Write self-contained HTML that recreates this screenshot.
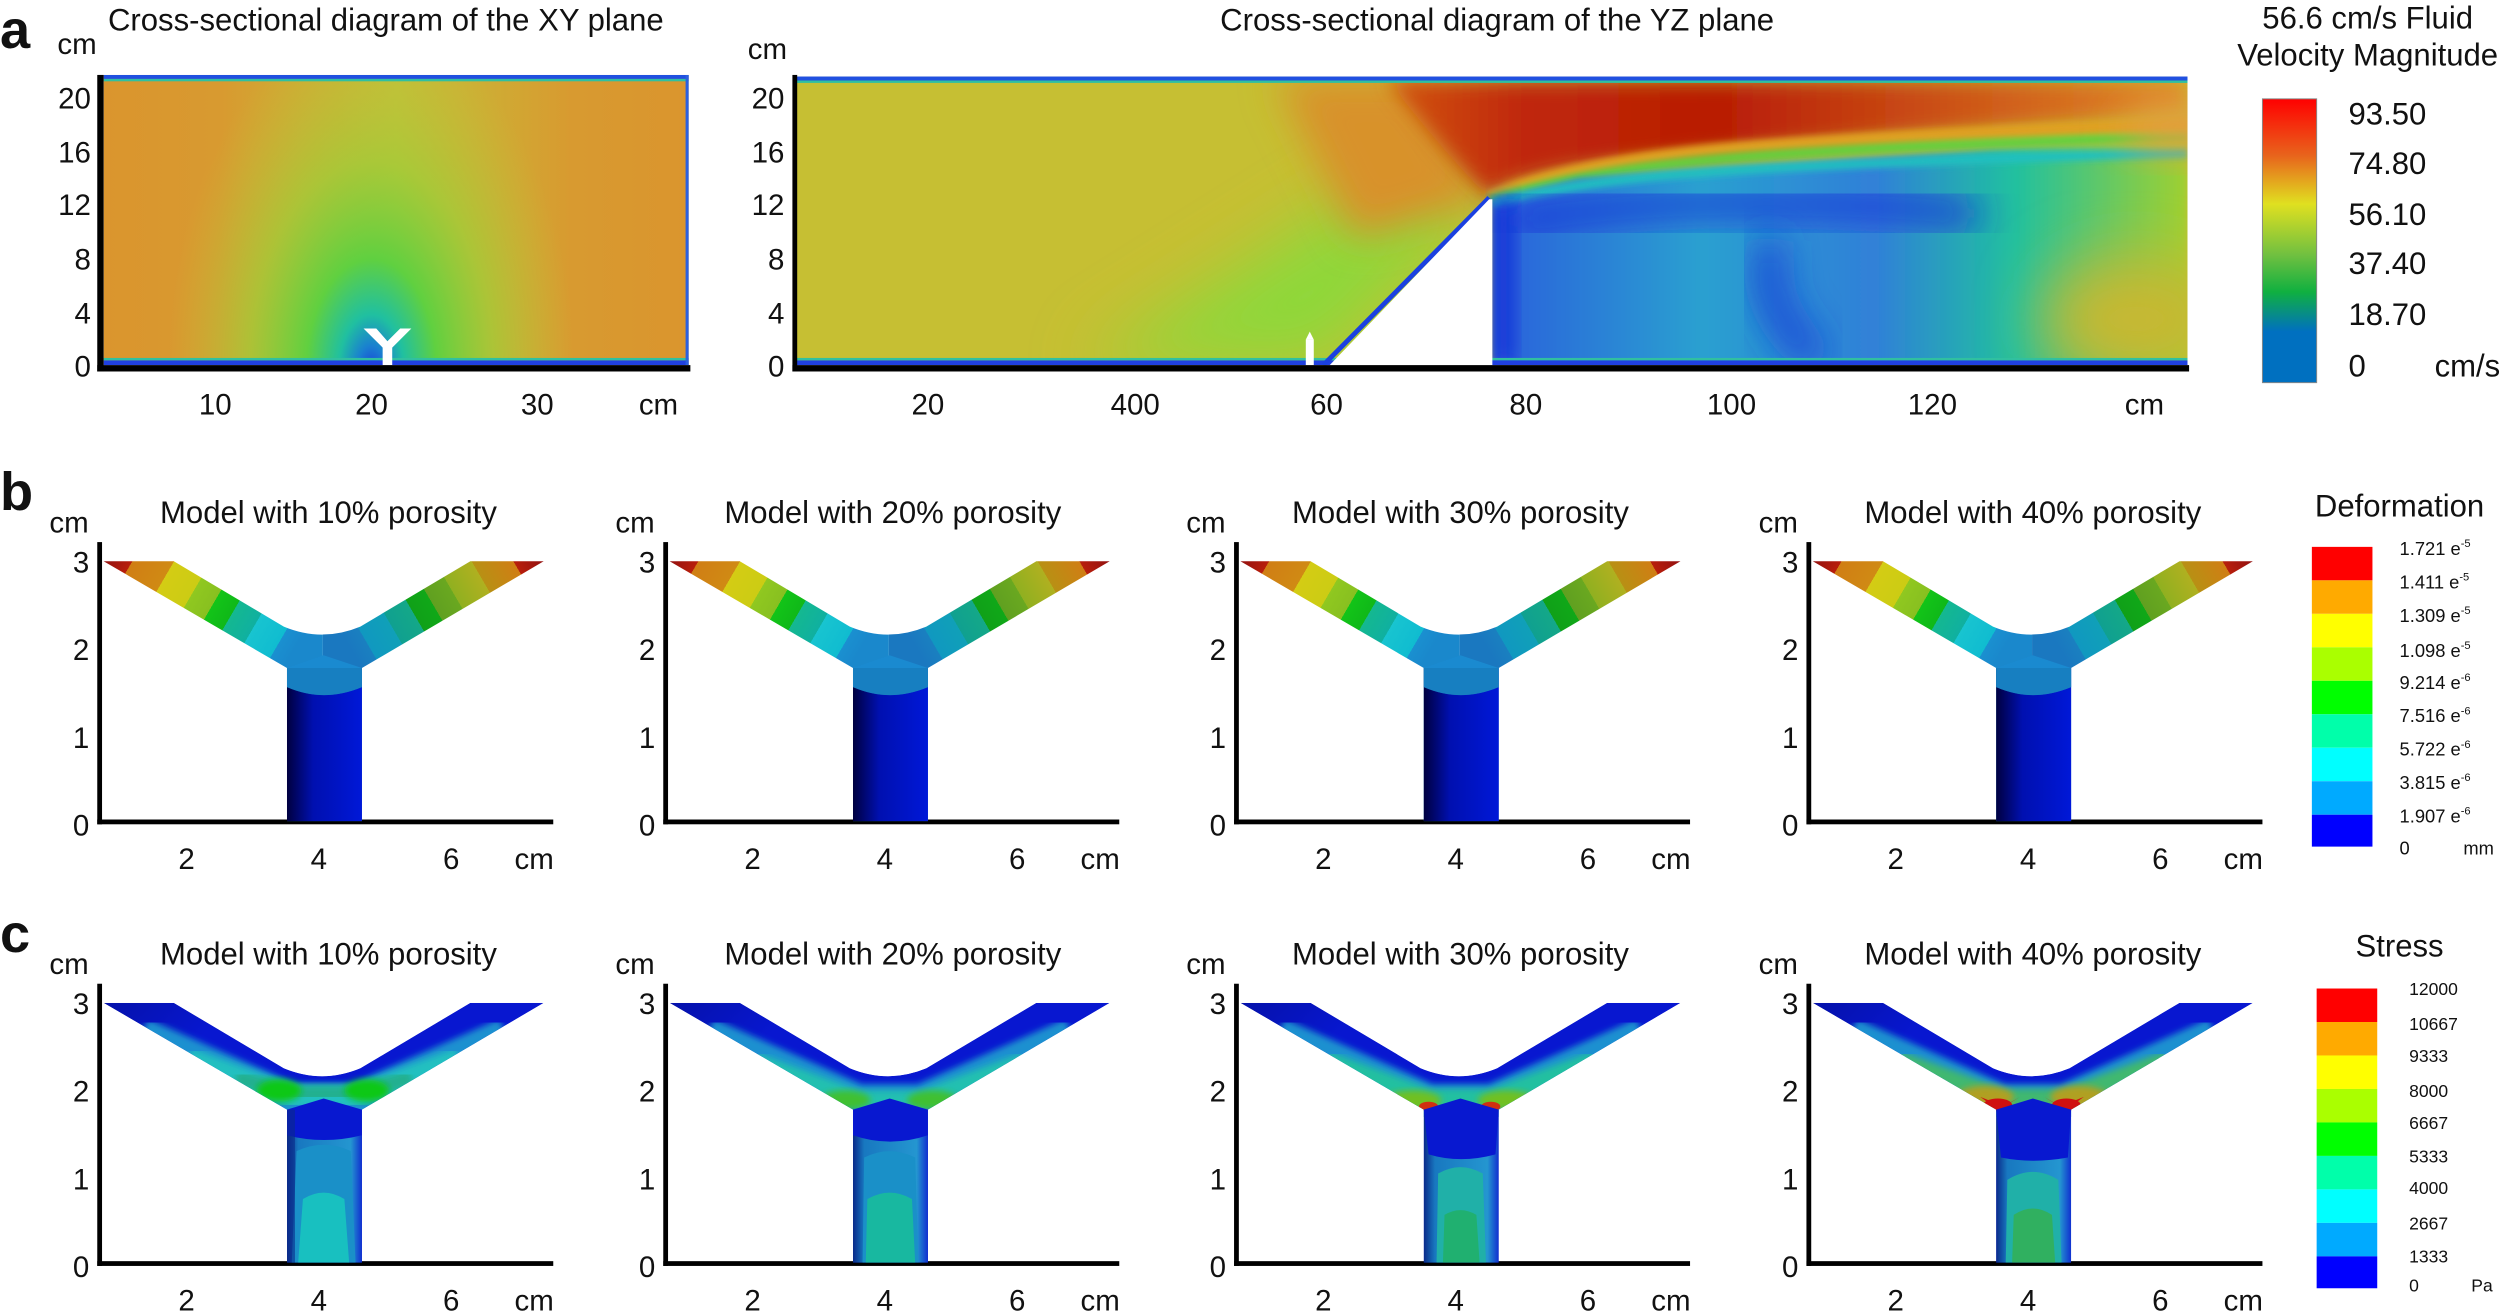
<!DOCTYPE html>
<html><head><meta charset="utf-8"><style>html,body{margin:0;padding:0;background:#fff}svg{display:block}text{font-family:"Liberation Sans",Arial,sans-serif;fill:#111}</style></head><body>
<svg width="2500" height="1316" viewBox="0 0 1568 825.4" preserveAspectRatio="none" xmlns="http://www.w3.org/2000/svg">
<defs>
<filter id="b2" x="-20%" y="-20%" width="140%" height="140%"><feGaussianBlur stdDeviation="2"/></filter>
<filter id="b6" x="-30%" y="-30%" width="160%" height="160%"><feGaussianBlur stdDeviation="6"/></filter>
<filter id="b12" x="-50%" y="-50%" width="200%" height="200%"><feGaussianBlur stdDeviation="12"/></filter>
<filter id="b20" x="-50%" y="-50%" width="200%" height="200%"><feGaussianBlur stdDeviation="20"/></filter>
<clipPath id="cxy"><rect x="65" y="47" width="367" height="182"/></clipPath>
<clipPath id="cyz"><rect x="499" y="48" width="873" height="181"/></clipPath>
<linearGradient id="xyh" x1="0" x2="1" y1="0" y2="0"><stop offset="0" stop-color="#da952e"/><stop offset="0.2" stop-color="#d89a30"/><stop offset="0.5" stop-color="#c4c038"/><stop offset="0.8" stop-color="#d89a30"/><stop offset="1" stop-color="#da952e"/></linearGradient>
<radialGradient id="xyr" cx="233" cy="232" r="150" gradientUnits="userSpaceOnUse" gradientTransform="translate(233 232) scale(0.85 1.45) translate(-233 -232)"><stop offset="0" stop-color="#1a40d8"/><stop offset="0.07" stop-color="#1a80d0"/><stop offset="0.16" stop-color="#20c0a0"/><stop offset="0.32" stop-color="#60d040"/><stop offset="0.6" stop-color="#a0cc38" stop-opacity="0.75"/><stop offset="1" stop-color="#c4c038" stop-opacity="0"/></radialGradient>
<linearGradient id="yzlow" x1="936" x2="1372" y1="0" y2="0" gradientUnits="userSpaceOnUse"><stop offset="0" stop-color="#2a60dc"/><stop offset="0.3" stop-color="#2aa0d0"/><stop offset="0.55" stop-color="#3080d8"/><stop offset="0.75" stop-color="#20c0a0"/><stop offset="1" stop-color="#a0d030"/></linearGradient>
<linearGradient id="yzred" x1="880" x2="1372" y1="0" y2="0" gradientUnits="userSpaceOnUse"><stop offset="0" stop-color="#d05010"/><stop offset="0.15" stop-color="#c02808"/><stop offset="0.4" stop-color="#b81c05"/><stop offset="1" stop-color="#e08a28"/></linearGradient>
<linearGradient id="vbar" x1="0" x2="0" y1="0" y2="1"><stop offset="0" stop-color="#ff0000"/><stop offset="0.2" stop-color="#e8641c"/><stop offset="0.37" stop-color="#e0e020"/><stop offset="0.55" stop-color="#70c040"/><stop offset="0.68" stop-color="#10b040"/><stop offset="0.82" stop-color="#0070c0"/><stop offset="1" stop-color="#0070c0"/></linearGradient>
<linearGradient id="defL" x1="0" y1="-163" x2="115" y2="-96" gradientUnits="userSpaceOnUse">
<stop offset="0" stop-color="#901010"/><stop offset="0.13" stop-color="#b81e0c"/><stop offset="0.13" stop-color="#d07e14"/><stop offset="0.3" stop-color="#d08a14"/><stop offset="0.3" stop-color="#d4cc14"/><stop offset="0.45" stop-color="#cccc14"/><stop offset="0.45" stop-color="#90c820"/><stop offset="0.56" stop-color="#88c020"/><stop offset="0.56" stop-color="#12c418"/><stop offset="0.66" stop-color="#10b818"/><stop offset="0.66" stop-color="#14b890"/><stop offset="0.78" stop-color="#10b0a0"/><stop offset="0.78" stop-color="#18c4d0"/><stop offset="0.92" stop-color="#10bcd0"/><stop offset="0.92" stop-color="#1a90d0"/><stop offset="1" stop-color="#1a88cc"/></linearGradient>
<linearGradient id="defR" x1="279" y1="-163" x2="164" y2="-96" gradientUnits="userSpaceOnUse">
<stop offset="0" stop-color="#901010"/><stop offset="0.13" stop-color="#b81e0c"/><stop offset="0.13" stop-color="#d07e14"/><stop offset="0.3" stop-color="#b89014"/><stop offset="0.3" stop-color="#b0b020"/><stop offset="0.45" stop-color="#90b020"/><stop offset="0.45" stop-color="#6aa820"/><stop offset="0.56" stop-color="#60a020"/><stop offset="0.56" stop-color="#10a818"/><stop offset="0.66" stop-color="#10a018"/><stop offset="0.66" stop-color="#14a888"/><stop offset="0.78" stop-color="#10a090"/><stop offset="0.78" stop-color="#10a0b8"/><stop offset="0.92" stop-color="#1098c0"/><stop offset="0.92" stop-color="#1a80c0"/><stop offset="1" stop-color="#1a78c0"/></linearGradient>
<linearGradient id="stemB" x1="117" x2="164" y1="0" y2="0" gradientUnits="userSpaceOnUse"><stop offset="0" stop-color="#000040"/><stop offset="0.35" stop-color="#0010b0"/><stop offset="1" stop-color="#0018d8"/></linearGradient>
<linearGradient id="stemC" x1="117" x2="164" y1="0" y2="0" gradientUnits="userSpaceOnUse"><stop offset="0" stop-color="#0a2a8a"/><stop offset="0.15" stop-color="#1878c0"/><stop offset="0.85" stop-color="#2496d0"/><stop offset="1" stop-color="#1030d0"/></linearGradient>
<linearGradient id="armC" x1="0" y1="-163" x2="40" y2="-120" gradientUnits="userSpaceOnUse"><stop offset="0" stop-color="#000870"/><stop offset="1" stop-color="#0818d0"/></linearGradient>
<path id="ys" d="M2,-163 L46,-163 L115,-122 Q139,-112 163,-122 L232,-163 L278,-163 L164,-96 L164,0 L117,0 L117,-96 Z"/>
<clipPath id="cys"><use href="#ys"/></clipPath>
<clipPath id="cl"><rect x="-10" y="-200" width="149.5" height="210"/></clipPath>
<clipPath id="cr"><rect x="139.5" y="-200" width="160" height="210"/></clipPath>
<g id="defY">
<use href="#ys" fill="url(#defL)" clip-path="url(#cl)"/>
<use href="#ys" fill="url(#defR)" clip-path="url(#cr)"/>
<rect x="117" y="-96" width="47" height="96" fill="url(#stemB)"/>
<path d="M117,-96 L140,-104 L164,-96 L164,-84 Q140,-74 117,-84 Z" fill="#1a8ad0"/>
<path d="M117,-96 L164,-96 L164,-84 Q140,-74 117,-84 Z" fill="#1578b8" opacity="0.6"/>
</g>
<g id="armLight">
<path d="M25,-142 L120,-100 L160,-100 L255,-142" stroke="#1a90d0" stroke-width="24" fill="none" filter="url(#b2)"/>
</g>
</defs>

<!-- Panel a -->
<text x="0" y="30" font-size="34" font-weight="bold">a</text>
<text x="242" y="19" font-size="19.5" text-anchor="middle">Cross-sectional diagram of the XY plane</text>
<text x="36" y="34" font-size="18.5">cm</text>
<g clip-path="url(#cxy)">
<rect x="65" y="47" width="367" height="182" fill="url(#xyh)"/>
<rect x="65" y="47" width="367" height="182" fill="url(#xyr)"/>
<rect x="65" y="47" width="367" height="2.5" fill="#2050e0"/>
<rect x="65" y="49.5" width="367" height="1.5" fill="#30c0a0"/>
<rect x="65" y="226" width="367" height="3" fill="#2040e0"/>
<rect x="65" y="224.5" width="367" height="1.5" fill="#30c0a0"/>
<rect x="430" y="47" width="2" height="182" fill="#2a60e0"/>
</g>
<path d="M228,206 L236,206 L243,214 L251,206 L258,206 L246,218 L246,229 L240,229 L240,218 Z" fill="#fff"/>
<rect x="61" y="47" width="4" height="186" fill="#000"/>
<rect x="61" y="229" width="372" height="4" fill="#000"/>
<g font-size="18.5" text-anchor="end">
<text x="57" y="68">20</text><text x="57" y="102">16</text><text x="57" y="135">12</text><text x="57" y="169">8</text><text x="57" y="203">4</text><text x="57" y="236">0</text>
</g>
<g font-size="18.5" text-anchor="middle">
<text x="135" y="260">10</text><text x="233" y="260">20</text><text x="337" y="260">30</text><text x="413" y="260">cm</text>
</g>

<text x="939" y="19" font-size="19.5" text-anchor="middle">Cross-sectional diagram of the YZ plane</text>
<text x="469" y="37" font-size="18.5">cm</text>
<g clip-path="url(#cyz)">
<rect x="499" y="48" width="873" height="181" fill="#c6bf33"/>
<polygon points="680,229 830,229 934,124 870,110" fill="#8ed83a" filter="url(#b20)"/>
<polygon points="800,48 890,48 934,124 850,150" fill="#d8922a" filter="url(#b12)"/>
<path d="M870,50 L1372,50 L1372,72 C1250,80 1100,92 1000,104 C960,110 940,116 934,124 C910,100 890,75 870,50 Z" fill="url(#yzred)" filter="url(#b6)"/>
<path d="M934,124 Q990,100 1100,92 T1372,78" stroke="#e0a020" stroke-width="8" fill="none" filter="url(#b2)"/>
<path d="M934,126 Q990,106 1100,98 T1372,86" stroke="#60d040" stroke-width="6" fill="none" filter="url(#b2)"/>
<polygon points="936,126 990,112 1100,104 1250,94 1372,90 1372,229 936,229" fill="url(#yzlow)" filter="url(#b2)"/>
<path d="M936,128 Q990,112 1100,106 T1372,96" stroke="#22c0c0" stroke-width="6" fill="none" filter="url(#b2)"/>
<path d="M945,140 Q1020,126 1120,128 T1240,136" stroke="#1430d8" stroke-width="16" fill="none" filter="url(#b12)"/>
<path d="M1112,150 Q1100,190 1140,226" stroke="#1838d8" stroke-width="16" fill="none" filter="url(#b12)"/>
<rect x="936" y="125" width="14" height="104" fill="#1434d8" filter="url(#b6)"/>
<ellipse cx="1340" cy="200" rx="60" ry="40" fill="#c8b830" filter="url(#b20)"/>
<ellipse cx="1370" cy="80" rx="40" ry="15" fill="#e0a040" filter="url(#b12)"/>
<rect x="499" y="48" width="873" height="2.5" fill="#2050e0"/>
<rect x="499" y="50.5" width="873" height="1.5" fill="#30c0a0"/>
<rect x="499" y="226" width="873" height="3" fill="#2040e0"/>
<rect x="499" y="224.5" width="873" height="1.5" fill="#30c0a0"/>
<path d="M830,229 L934,124" stroke="#1a40e0" stroke-width="3"/>
</g>
<polygon points="833,230 934,125 936,125 936,230" fill="#fff"/>
<rect x="819" y="213" width="5" height="17" fill="#fff"/><polygon points="819,213 821.5,208 824,213" fill="#fff"/>
<rect x="497" y="47" width="3" height="186" fill="#000"/>
<rect x="497" y="229" width="876" height="4" fill="#000"/>
<g font-size="18.5" text-anchor="end">
<text x="492" y="68">20</text><text x="492" y="102">16</text><text x="492" y="135">12</text><text x="492" y="169">8</text><text x="492" y="203">4</text><text x="492" y="236">0</text>
</g>
<g font-size="18.5" text-anchor="middle">
<text x="582" y="260">20</text><text x="712" y="260">400</text><text x="832" y="260">60</text><text x="957" y="260">80</text><text x="1086" y="260">100</text><text x="1212" y="260">120</text><text x="1345" y="260">cm</text>
</g>
<text x="1485" y="18" font-size="19.5" text-anchor="middle">56.6 cm/s Fluid</text>
<text x="1485" y="41" font-size="19.5" text-anchor="middle">Velocity Magnitude</text>
<rect x="1419" y="62" width="34" height="178" fill="url(#vbar)" stroke="#888" stroke-width="0.6"/>
<g font-size="19.5">
<text x="1473" y="78">93.50</text><text x="1473" y="109">74.80</text><text x="1473" y="141">56.10</text><text x="1473" y="172">37.40</text><text x="1473" y="204">18.70</text><text x="1473" y="236">0</text><text x="1527" y="236">cm/s</text>
</g>

<!-- Panel b -->
<text x="0" y="320" font-size="34" font-weight="bold">b</text>
<g font-size="19.5">
<text x="206" y="328" text-anchor="middle">Model with 10% porosity</text>
<text x="560" y="328" text-anchor="middle">Model with 20% porosity</text>
<text x="916" y="328" text-anchor="middle">Model with 30% porosity</text>
<text x="1275" y="328" text-anchor="middle">Model with 40% porosity</text>
</g>
<g id="axB">
<text x="31" y="334" font-size="18.5">cm</text>
<g font-size="18.5" text-anchor="end"><text x="56" y="359">3</text><text x="56" y="414">2</text><text x="56" y="469">1</text><text x="56" y="524">0</text></g>
<g font-size="18.5" text-anchor="middle"><text x="117" y="545">2</text><text x="200" y="545">4</text><text x="283" y="545">6</text><text x="335" y="545">cm</text></g>
<rect x="61" y="340" width="3" height="177" fill="#000"/>
<rect x="61" y="514" width="286" height="3" fill="#000"/>
</g>
<use href="#axB" x="355"/><use href="#axB" x="713"/><use href="#axB" x="1072"/>
<use href="#defY" transform="translate(63,515)"/>
<use href="#defY" transform="translate(418,515)"/>
<use href="#defY" transform="translate(776,515)"/>
<use href="#defY" transform="translate(1135,515)"/>
<text x="1505" y="324" font-size="19.5" text-anchor="middle">Deformation</text>
<g>
<rect x="1450" y="343" width="38" height="21" fill="#ff0000"/>
<rect x="1450" y="364" width="38" height="21" fill="#ffaa00"/>
<rect x="1450" y="385" width="38" height="21" fill="#ffff00"/>
<rect x="1450" y="406" width="38" height="21" fill="#aaff00"/>
<rect x="1450" y="427" width="38" height="21" fill="#00ff00"/>
<rect x="1450" y="448" width="38" height="21" fill="#00ffaa"/>
<rect x="1450" y="469" width="38" height="21" fill="#00ffff"/>
<rect x="1450" y="490" width="38" height="21" fill="#00aaff"/>
<rect x="1450" y="511" width="38" height="20" fill="#0000ff"/>
</g>
<g font-size="11.5">
<text x="1505" y="348">1.721 e<tspan font-size="7" dy="-5">-5</tspan></text>
<text x="1505" y="369">1.411 e<tspan font-size="7" dy="-5">-5</tspan></text>
<text x="1505" y="390">1.309 e<tspan font-size="7" dy="-5">-5</tspan></text>
<text x="1505" y="412">1.098 e<tspan font-size="7" dy="-5">-5</tspan></text>
<text x="1505" y="432">9.214 e<tspan font-size="7" dy="-5">-6</tspan></text>
<text x="1505" y="453">7.516 e<tspan font-size="7" dy="-5">-6</tspan></text>
<text x="1505" y="474">5.722 e<tspan font-size="7" dy="-5">-6</tspan></text>
<text x="1505" y="495">3.815 e<tspan font-size="7" dy="-5">-6</tspan></text>
<text x="1505" y="516">1.907 e<tspan font-size="7" dy="-5">-6</tspan></text>
<text x="1505" y="536">0</text><text x="1545" y="536">mm</text>
</g>

<!-- Panel c -->
<text x="0" y="597" font-size="34" font-weight="bold">c</text>
<g font-size="19.5">
<text x="206" y="605" text-anchor="middle">Model with 10% porosity</text>
<text x="560" y="605" text-anchor="middle">Model with 20% porosity</text>
<text x="916" y="605" text-anchor="middle">Model with 30% porosity</text>
<text x="1275" y="605" text-anchor="middle">Model with 40% porosity</text>
</g>
<use href="#axB" y="277"/><use href="#axB" x="355" y="277"/><use href="#axB" x="713" y="277"/><use href="#axB" x="1072" y="277"/>

<g transform="translate(63,792)">
<g clip-path="url(#cys)">
<use href="#ys" fill="url(#armC)"/>
<use href="#ys" fill="#0818d0" opacity="0.6"/>
<use href="#armLight"/>
<path d="M55,-128 L120,-104 L160,-104 L225,-128" stroke="#20c0c0" stroke-width="14" fill="none" filter="url(#b2)"/>
<path d="M85,-116 L120,-106 L160,-106 L195,-116" stroke="#20b090" stroke-width="10" fill="none" filter="url(#b2)"/>
<ellipse cx="112" cy="-108" rx="14" ry="7" fill="#10c818" filter="url(#b2)"/>
<ellipse cx="167" cy="-108" rx="14" ry="7" fill="#10c818" filter="url(#b2)"/>
<rect x="117" y="-96" width="47" height="96" fill="url(#stemC)"/>
<path d="M117,-96 L140,-103 L164,-96 L164,-80 Q140,-74 117,-80 Z" fill="#0818d0"/>
<path d="M123,-70 Q140,-78 157,-70 L160,0 L120,0 Z" fill="#1a90c8"/>
<path d="M127,-40 Q140,-48 153,-40 L156,0 L124,0 Z" fill="#18c0c0"/>
<rect x="117" y="-96" width="5" height="96" fill="#0a2a8a" opacity="0.6"/>
</g>
</g>
<g transform="translate(418,792)">
<g clip-path="url(#cys)">
<use href="#ys" fill="url(#armC)"/>
<use href="#ys" fill="#0818d0" opacity="0.6"/>
<use href="#armLight"/>
<path d="M55,-126 L120,-102 L160,-102 L225,-126" stroke="#20c0b0" stroke-width="12" fill="none" filter="url(#b2)"/>
<ellipse cx="112" cy="-102" rx="16" ry="6" fill="#40c030" filter="url(#b2)"/>
<ellipse cx="167" cy="-102" rx="16" ry="6" fill="#40c030" filter="url(#b2)"/>
<rect x="117" y="-96" width="47" height="96" fill="url(#stemC)"/>
<path d="M117,-96 L140,-103 L164,-96 L164,-80 Q140,-72 117,-80 Z" fill="#0818d0"/>
<path d="M124,-66 Q140,-74 156,-66 L158,0 L123,0 Z" fill="#1a90c8"/>
<path d="M126,-40 Q140,-48 154,-40 L156,0 L125,0 Z" fill="#18b8a0"/>
</g>
</g>
<g transform="translate(776,792)">
<g clip-path="url(#cys)">
<use href="#ys" fill="url(#armC)"/>
<use href="#ys" fill="#0818d0" opacity="0.6"/>
<use href="#armLight"/>
<path d="M55,-126 L120,-102 L160,-102 L225,-126" stroke="#20c0a0" stroke-width="14" fill="none" filter="url(#b2)"/>
<ellipse cx="110" cy="-102" rx="18" ry="6" fill="#70c020" filter="url(#b2)"/>
<ellipse cx="169" cy="-102" rx="18" ry="6" fill="#70c020" filter="url(#b2)"/>
<ellipse cx="120" cy="-98" rx="6" ry="3" fill="#d03010"/>
<ellipse cx="159" cy="-98" rx="6" ry="3" fill="#d03010"/>
<rect x="117" y="-96" width="47" height="96" fill="url(#stemC)"/>
<path d="M117,-96 L140,-103 L164,-96 L162,-68 Q140,-62 120,-68 Z" fill="#0818d0"/>
<path d="M126,-56 Q140,-64 154,-56 L156,0 L125,0 Z" fill="#20b0a8"/>
<path d="M130,-30 Q140,-36 150,-30 L152,0 L129,0 Z" fill="#20b070"/>
</g>
</g>
<g transform="translate(1135,792)">
<g clip-path="url(#cys)">
<use href="#ys" fill="url(#armC)"/>
<use href="#ys" fill="#0818d0" opacity="0.6"/>
<use href="#armLight"/>
<path d="M55,-126 L120,-102 L160,-102 L225,-126" stroke="#40b870" stroke-width="14" fill="none" filter="url(#b2)"/>
<ellipse cx="110" cy="-104" rx="18" ry="7" fill="#b0a020" filter="url(#b2)"/>
<ellipse cx="169" cy="-104" rx="18" ry="7" fill="#b0a020" filter="url(#b2)"/>
<path d="M107,-104 L122,-98 L132,-104 L118,-96 Z" fill="#d01010"/>
<path d="M172,-104 L157,-98 L147,-104 L161,-96 Z" fill="#d01010"/>
<ellipse cx="118" cy="-99" rx="9" ry="4" fill="#d01010"/>
<ellipse cx="161" cy="-99" rx="9" ry="4" fill="#d01010"/>
<rect x="117" y="-96" width="47" height="96" fill="url(#stemC)"/>
<path d="M117,-96 L140,-103 L164,-96 L162,-66 Q140,-62 120,-66 Z" fill="#0818d0"/>
<path d="M124,-52 Q140,-62 156,-52 L158,0 L123,0 Z" fill="#20b0a8"/>
<path d="M128,-30 Q140,-38 152,-30 L154,0 L127,0 Z" fill="#30b060"/>
</g>
</g>

<text x="1505" y="600" font-size="19.5" text-anchor="middle">Stress</text>
<g>
<rect x="1453" y="620" width="38" height="21" fill="#ff0000"/>
<rect x="1453" y="641" width="38" height="21" fill="#ffaa00"/>
<rect x="1453" y="662" width="38" height="21" fill="#ffff00"/>
<rect x="1453" y="683" width="38" height="21" fill="#aaff00"/>
<rect x="1453" y="704" width="38" height="21" fill="#00ff00"/>
<rect x="1453" y="725" width="38" height="21" fill="#00ffaa"/>
<rect x="1453" y="746" width="38" height="21" fill="#00ffff"/>
<rect x="1453" y="767" width="38" height="21" fill="#00aaff"/>
<rect x="1453" y="788" width="38" height="20" fill="#0000ff"/>
</g>
<g font-size="11">
<text x="1511" y="624">12000</text><text x="1511" y="646">10667</text><text x="1511" y="666">9333</text><text x="1511" y="688">8000</text><text x="1511" y="708">6667</text><text x="1511" y="729">5333</text><text x="1511" y="749">4000</text><text x="1511" y="771">2667</text><text x="1511" y="792">1333</text><text x="1511" y="810">0</text><text x="1550" y="810">Pa</text>
</g>
</svg>
</body></html>
